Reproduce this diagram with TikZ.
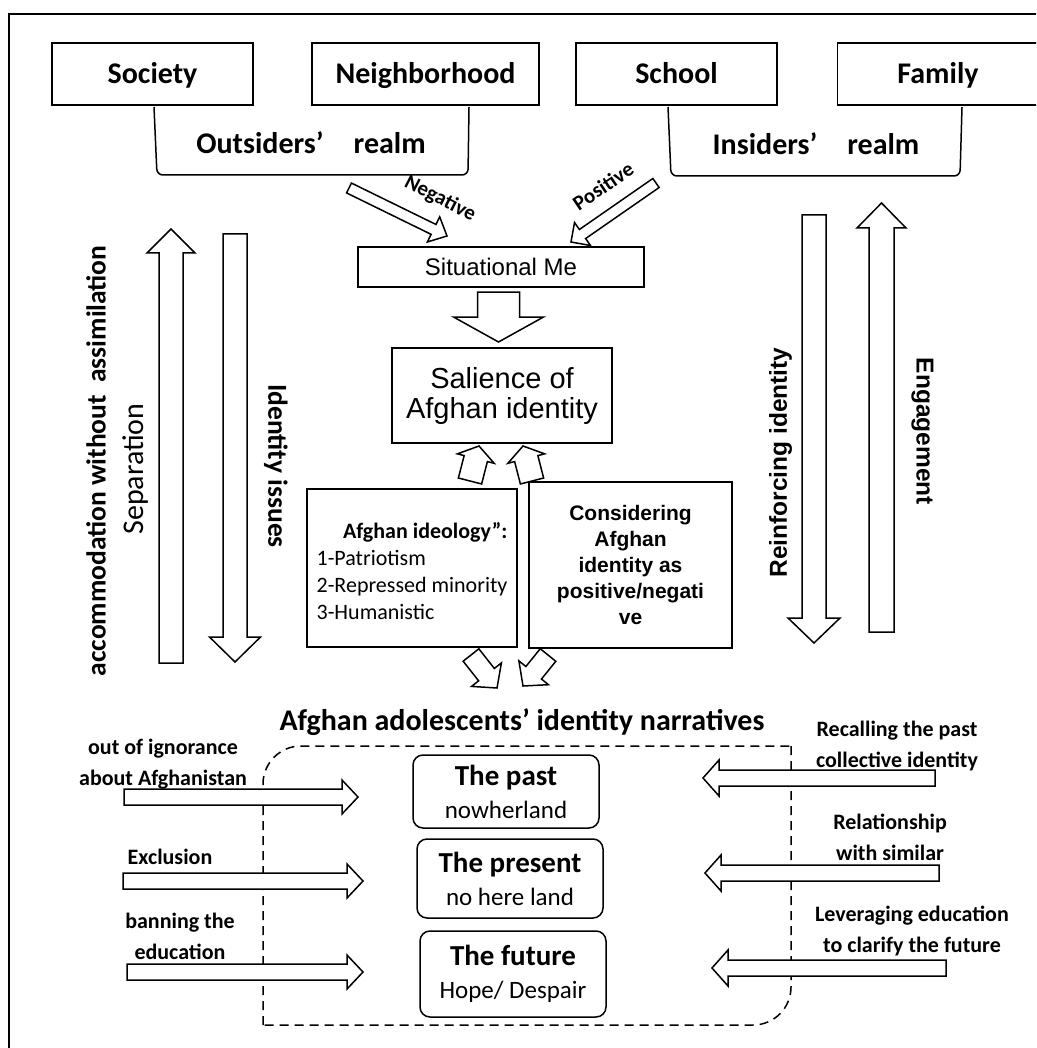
\documentclass[tikz,border=0pt]{standalone}
\usepackage{fontspec}
\setmainfont{Carlito}
\newfontfamily\arialfont{Liberation Sans}
\usetikzlibrary{calc}

% tail, tip, shaft half width, head half width, head length
\newcommand{\blockarrow}[5]{%
\path (#2) coordinate (ba-tip) ($(#2)!#5!(#1)$) coordinate (ba-base);
\draw[blockarr] ($(#1)!#3!90:(#2)$) -- ($(ba-base)!#3!90:(ba-tip)$) -- ($(ba-base)!#4!90:(ba-tip)$) -- (ba-tip)
  -- ($(ba-base)!#4!-90:(ba-tip)$) -- ($(ba-base)!#3!-90:(ba-tip)$) -- ($(#1)!#3!-90:(#2)$) -- cycle;}

\tikzset{
topbox/.style={draw, line width=1.5pt, minimum width=201pt, minimum height=62pt, inner sep=0pt,
  text height=20pt, text depth=0pt, font=\bfseries\fontsize{30}{36}\selectfont},
realm/.style={line width=1.5pt, rounded corners=6pt},
realmtext/.style={anchor=base, font=\bfseries\fontsize{30}{36}\selectfont},
plainbox/.style={draw, line width=1.5pt, inner sep=0pt, align=center},
narrbox/.style={draw, line width=1.5pt, rounded corners=10pt, minimum width=186pt, inner sep=0pt,
  align=center, font=\fontsize{25}{33}\selectfont},
blockarr/.style={draw, fill=white, line width=1.5pt, line join=miter},
sidelabel/.style={align=center, font=\bfseries\fontsize{22}{31}\selectfont},
sidetext/.style={font=\bfseries\fontsize{27.5}{32}\selectfont},
vertarial/.style={font=\arialfont\bfseries\fontsize{24.5}{28}\selectfont},
dashbox/.style={line width=1.5pt, dash pattern=on 9pt off 6pt, rounded corners=38pt}
}

\begin{document}
\begin{tikzpicture}[x=1pt,y=-1pt]
\useasboundingbox (0,0) rectangle (1036,1048);
\clip (0,0) rectangle (1036,1048);
\draw[line width=1.5pt] (9,14) rectangle (1050,1060);

\node[topbox] (society) at (152.5,74) {Society};
\node[topbox, minimum width=227pt] (neigh) at (425.5,74) {Neighborhood};
\node[topbox] (school) at (676.5,74) {School};
\node[topbox] (family) at (938,74) {Family};

\draw[realm] (154,107) -- (157,175) -- (468,175) -- (469,107);
\node[realmtext] (outrealm) at (311,154) {Outsiders’\hspace{1em}realm};
\draw[realm] (668,107) -- (671,176) -- (960,176) -- (962,107);
\node[realmtext] (inrealm) at (816,155) {Insiders’\hspace{1em}realm};

\node[plainbox, minimum width=286pt, minimum height=40pt, text height=17pt, text depth=0pt,
  font=\arialfont\fontsize{24}{28}\selectfont] (sitme) at (501,267) {Situational Me};
\node[plainbox, minimum width=220pt, minimum height=95pt,
  font=\arialfont\fontsize{29}{30}\selectfont] (salience) at (502,395.5) {Salience of\\Afghan identity};
\node[plainbox, minimum width=210pt, minimum height=158pt,
  font=\fontsize{22}{27}\selectfont] (ideology) at (412,568)
  {\begin{tabular}{@{}l@{}}
   \multicolumn{1}{@{}r@{}}{\rule{0pt}{31pt}\textbf{Afghan ideology”:}}\\
   1-Patriotism\\
   2-Repressed minority\\
   3-Humanistic
   \end{tabular}};
\node[plainbox, minimum width=203pt, minimum height=166pt,
  font=\arialfont\bfseries\fontsize{21}{26}\selectfont] (considering) at (630.5,565)
  {Considering\\Afghan\\identity as\\positive/negati\\ve};

\node[anchor=base, font=\bfseries\fontsize{30}{34}\selectfont] (title) at (522,730)
  {Afghan adolescents’ identity narratives};
\draw[dashbox] (263,1025) -- (263,746) -- (791,746);
\draw[dashbox] (791,746) -- (791,1025) -- (263,1025);

\node[narrbox, minimum height=73pt] (past) at (506,791.5)
  {{\bfseries\fontsize{29}{33}\selectfont The past}\\nowherland};
\node[narrbox, minimum height=79pt] (present) at (510,878.5)
  {{\bfseries\fontsize{29}{33}\selectfont The present}\\no here land};
\node[narrbox, minimum height=86pt] (future) at (513,974)
  {{\bfseries\fontsize{29}{33}\selectfont The future}\\Hope/ Despair};

\coordinate (negtail) at (349,188);
\coordinate (negtip) at (447,236);
\coordinate (postail) at (656,183);
\coordinate (postip) at (571,242);
\coordinate (sittail) at (498.5,292);
\coordinate (saltip) at (498.5,342);
\blockarrow{negtail}{negtip}{5.5pt}{14pt}{15pt}
\blockarrow{postail}{postip}{5.5pt}{14pt}{14pt}
\blockarrow{sittail}{saltip}{21pt}{45pt}{25pt}

\coordinate (septail) at (171,663);
\coordinate (septip) at (171,229);
\coordinate (isstail) at (235,234);
\coordinate (isstip) at (235,662);
\coordinate (reitail) at (814,215);
\coordinate (reitip) at (814,643);
\coordinate (engtail) at (881.5,632);
\coordinate (engtip) at (881.5,203);
\blockarrow{septail}{septip}{12pt}{24pt}{24pt}
\blockarrow{isstail}{isstip}{12pt}{25.5pt}{25pt}
\blockarrow{reitail}{reitip}{12pt}{26pt}{25pt}
\blockarrow{engtail}{engtip}{12.5pt}{24.5pt}{25pt}

\coordinate (uplt) at (470,481);
\coordinate (uplh) at (479,446);
\coordinate (uprt) at (532,481);
\coordinate (uprh) at (523,446);
\coordinate (dnlt) at (471,655);
\coordinate (dnlh) at (497,688);
\coordinate (dnrt) at (548,655);
\coordinate (dnrh) at (523,686);
\blockarrow{uplt}{uplh}{12pt}{19pt}{13pt}
\blockarrow{uprt}{uprh}{12pt}{19pt}{13pt}
\blockarrow{dnlt}{dnlh}{10pt}{19pt}{17pt}
\blockarrow{dnrt}{dnrh}{10pt}{19pt}{17pt}

\foreach \n/\y/\xa/\xb in {1/797/124/358, 2/881/123/363, 3/972/127/363}{
  \coordinate (lt\n) at (\xa,\y);
  \coordinate (lh\n) at (\xb,\y);
  \blockarrow{lt\n}{lh\n}{8pt}{17pt}{16pt}
}
\foreach \n/\y/\xa/\xb in {1/778/935/703, 2/873/939/705, 3/968/946/712}{
  \coordinate (rt\n) at (\xa,\y);
  \coordinate (rh\n) at (\xb,\y);
  \blockarrow{rt\n}{rh\n}{8pt}{18pt}{16pt}
}

\node[rotate=-27, font=\bfseries\fontsize{21}{25}\selectfont] (neglabel) at (440,199) {Negative};
\node[rotate=34, font=\bfseries\fontsize{21}{25}\selectfont] (poslabel) at (603,186) {Positive};

\node[sidetext, rotate=90] (accomm) at (96,461) {accommodation without\ \ assimilation};
\node[rotate=90, font=\fontsize{30}{36}\selectfont] (separation) at (135.5,469) {Separation};
\node[sidetext, rotate=-90] (issues) at (276,466) {Identity issues};
\node[vertarial, rotate=90] (reinforce) at (780.5,462.5) {Reinforcing identity};
\node[vertarial, rotate=-90] (engage) at (922.5,431.5) {Engagement};

\node[sidelabel] (ignorance) at (163,764) {out of ignorance\\about Afghanistan};
\node[sidelabel, anchor=base] (exclusion) at (170,864) {Exclusion};
\node[sidelabel] (banning) at (180,936) {banning the\\education};
\node[sidelabel] (recalling) at (897,746) {Recalling the past\\collective identity};
\node[sidelabel] (relation) at (890,837) {Relationship\\with similar};
\node[sidelabel] (leverage) at (912,931) {Leveraging education\\to clarify the future};
\end{tikzpicture}
\end{document}
